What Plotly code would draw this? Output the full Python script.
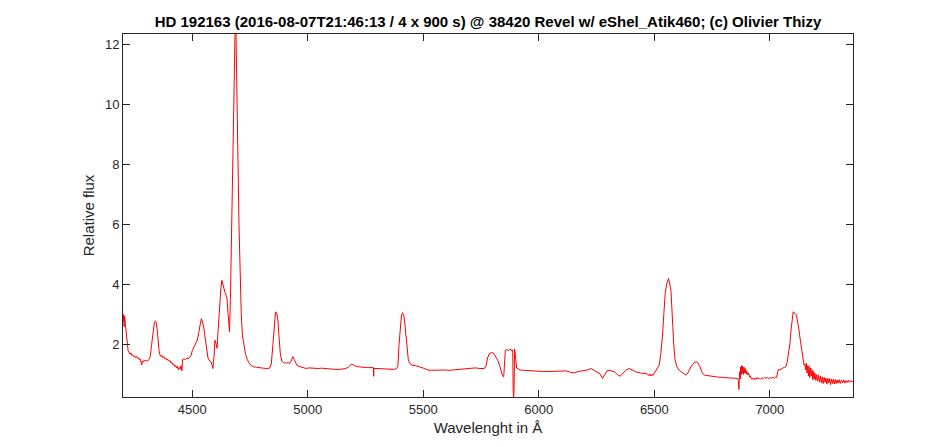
import plotly.graph_objects as go

wavelength = [
    4200, 4203, 4205, 4207, 4210, 4214, 4218, 4222, 4226, 4230, 4234, 4238, 4242, 4246, 4250,
    4254, 4258, 4262, 4266, 4270, 4274, 4278, 4281, 4284, 4288, 4292, 4296, 4300, 4306, 4312,
    4318, 4324, 4330, 4336, 4340, 4344, 4348, 4352, 4356, 4360, 4364, 4368, 4372, 4376, 4380,
    4385, 4390, 4395, 4400, 4404, 4408, 4412, 4416, 4420, 4424, 4428, 4432, 4436, 4440, 4444,
    4448, 4452, 4455, 4458, 4464, 4470, 4476, 4482, 4488, 4494, 4500, 4508, 4516, 4522, 4528,
    4534, 4539, 4544, 4550, 4556, 4562, 4568, 4575, 4582, 4586, 4589, 4594, 4598, 4602, 4607,
    4612, 4618, 4624, 4628, 4632, 4637, 4642, 4646, 4650, 4655, 4661, 4665, 4670, 4675, 4680,
    4685, 4689, 4693, 4697, 4702, 4707, 4712, 4717, 4722, 4730, 4738, 4746, 4755, 4765, 4778,
    4791, 4805, 4820, 4834, 4842, 4849, 4854, 4860, 4865, 4870, 4875, 4881, 4887, 4893, 4899,
    4907, 4914, 4921, 4928, 4935, 4941, 4947, 4953, 4962, 4972, 4982, 4993, 5005, 5018, 5030,
    5045, 5060, 5080, 5100, 5120, 5137, 5150, 5165, 5175, 5182, 5188, 5195, 5205, 5215, 5224,
    5240, 5255, 5270, 5280, 5284, 5285, 5286, 5300, 5320, 5340, 5360, 5375, 5385, 5390, 5395,
    5400, 5405, 5410, 5415, 5420, 5425, 5430, 5435, 5440, 5448, 5455, 5465, 5475, 5485, 5498,
    5510, 5520, 5534, 5550, 5570, 5590, 5613, 5635, 5660, 5685, 5705, 5725, 5745, 5764, 5772,
    5778, 5786, 5795, 5803, 5812, 5822, 5830, 5836, 5842, 5848, 5852, 5855, 5862, 5868, 5874,
    5880, 5884, 5887, 5889, 5891, 5893, 5895, 5897, 5900, 5904, 5912, 5920, 5935, 5950, 5973,
    6000, 6020, 6045, 6070, 6095, 6118, 6135, 6153, 6170, 6190, 6210, 6226, 6240, 6254, 6265,
    6276, 6285, 6295, 6305, 6315, 6327, 6340, 6352, 6365, 6378, 6391, 6405, 6420, 6440, 6455,
    6464, 6472, 6478, 6482, 6485, 6490, 6495, 6500, 6507, 6515, 6521, 6528, 6535, 6541, 6547,
    6553, 6558, 6561, 6565, 6569, 6572, 6576, 6579, 6584, 6590, 6598, 6608, 6618, 6628, 6637,
    6645, 6652, 6658, 6665, 6673, 6682, 6690, 6695, 6701, 6708, 6716, 6730, 6750, 6770, 6795,
    6820, 6840, 6860, 6864, 6866, 6868, 6870, 6872, 6874, 6876, 6878, 6880, 6882, 6885, 6888,
    6891, 6894, 6897, 6900, 6904, 6908, 6912, 6916, 6920, 6925, 6930, 6935, 6940, 6945, 6950,
    6955, 6960, 6966, 6972, 6978, 6983, 6990, 6996, 7002, 7008, 7014, 7020, 7026, 7029, 7033,
    7037, 7043, 7050, 7057, 7063, 7069, 7075, 7081, 7087, 7092, 7097, 7101, 7105, 7110, 7115,
    7120, 7126, 7130, 7134, 7139, 7144, 7148, 7152, 7155, 7158, 7161, 7164, 7167, 7170, 7173,
    7177, 7180, 7183, 7186, 7189, 7192, 7195, 7199, 7203, 7207, 7211, 7215, 7219, 7223, 7227,
    7231, 7235, 7239, 7243, 7247, 7251, 7255, 7259, 7263, 7267, 7271, 7275, 7279, 7283, 7287,
    7291, 7295, 7300, 7305, 7310, 7315, 7320, 7325, 7330, 7335, 7340, 7345, 7350, 7355, 7360,
]

flux = [
    2.75, 3.0, 2.6, 2.95, 2.7, 2.4, 2.0, 1.8, 1.75, 1.68, 1.72, 1.63, 1.66, 1.6, 1.62,
    1.56, 1.6, 1.54, 1.57, 1.5, 1.53, 1.4, 1.32, 1.45, 1.42, 1.48, 1.44, 1.47, 1.45, 1.5,
    1.6, 2.0, 2.5, 2.75, 2.78, 2.72, 2.5, 2.1, 1.8, 1.65, 1.6, 1.64, 1.56, 1.6, 1.53,
    1.55, 1.48, 1.5, 1.44, 1.46, 1.38, 1.4, 1.32, 1.35, 1.26, 1.3, 1.22, 1.28, 1.15, 1.24,
    1.18, 1.3, 1.12, 1.5, 1.52, 1.5, 1.54, 1.52, 1.56, 1.62, 1.8, 1.95, 2.05, 2.15, 2.4,
    2.75, 2.86, 2.75, 2.55, 2.2, 1.8, 1.55, 1.45, 1.42, 1.3, 1.2, 1.6, 2.14, 2.05, 1.87,
    2.5, 3.3, 3.9, 4.14, 4.0, 3.8, 3.72, 3.65, 3.55, 3.0, 2.42, 3.5, 6.0, 9.0, 11.5,
    12.4, 12.4, 11.0, 8.5, 6.0, 4.0, 3.0, 2.3, 2.0, 1.7, 1.5, 1.38, 1.3, 1.26, 1.24,
    1.22, 1.21, 1.2, 1.21, 1.35, 2.0, 2.7, 3.09, 3.05, 2.85, 2.3, 1.7, 1.45, 1.4, 1.39,
    1.38, 1.4, 1.37, 1.45, 1.6, 1.5, 1.4, 1.31, 1.27, 1.24, 1.22, 1.2, 1.22, 1.21, 1.22,
    1.2, 1.21, 1.19, 1.18, 1.17, 1.17, 1.18, 1.2, 1.25, 1.32, 1.34, 1.33, 1.28, 1.26, 1.25,
    1.24, 1.23, 1.23, 1.23, 1.23, 0.94, 1.2, 1.2, 1.19, 1.18, 1.17, 1.17, 1.2, 1.3, 2.0,
    2.6, 2.95, 3.06, 3.0, 2.7, 2.3, 1.8, 1.5, 1.38, 1.33, 1.3, 1.3, 1.28, 1.26, 1.22,
    1.18, 1.15, 1.14, 1.15, 1.14, 1.15, 1.14, 1.16, 1.18, 1.2, 1.2, 1.22, 1.2, 1.2, 1.3,
    1.55, 1.7, 1.73, 1.72, 1.62, 1.48, 1.3, 1.09, 0.98, 0.92, 1.3, 1.81, 1.83, 1.8, 1.84,
    1.83, 1.78, 1.82, 0.5, 0.15, 0.6, 1.85, 1.75, 1.5, 1.22, 1.18, 1.15, 1.14, 1.13, 1.12,
    1.11, 1.1, 1.1, 1.11, 1.12, 1.12, 1.08, 1.05, 1.1, 1.12, 1.15, 1.2, 1.14, 1.09, 1.02,
    0.87, 1.0, 1.12, 1.14, 1.12, 1.09, 1.0, 0.94, 1.05, 1.15, 1.2, 1.15, 1.09, 1.05, 1.04,
    1.03, 1.0, 0.96, 1.02, 0.95, 1.0, 0.97, 1.05, 1.14, 1.22, 1.31, 1.7, 2.25, 3.0, 3.7,
    4.0, 4.15, 4.2, 4.1, 3.95, 3.8, 3.2, 2.59, 2.0, 1.48, 1.25, 1.14, 1.08, 1.02, 0.98,
    1.05, 1.18, 1.25, 1.33, 1.4, 1.42, 1.38, 1.3, 1.2, 1.05, 0.98, 0.96, 0.94, 0.92, 0.9,
    0.89, 0.88, 0.87, 0.8, 0.5, 0.9, 1.1, 0.85, 1.25, 1.0, 1.3, 1.05, 1.28, 1.0, 1.25,
    1.05, 1.2, 1.02, 1.12, 0.98, 1.05, 0.92, 0.95, 0.85, 0.88, 0.82, 0.88, 0.84, 0.9, 0.85,
    0.88, 0.84, 0.89, 0.86, 0.9, 0.87, 0.9, 0.86, 0.9, 0.87, 0.91, 0.88, 0.92, 0.9, 1.05,
    1.17, 1.15, 1.2, 1.22, 1.23, 1.25, 1.4, 1.7, 2.03, 2.5, 2.9, 3.09, 3.05, 3.03, 2.98,
    2.8, 2.5, 2.25, 2.03, 1.7, 1.45, 1.31, 1.35, 1.15, 1.38, 1.05, 1.3, 0.95, 1.28, 0.9,
    1.22, 0.95, 1.15, 0.82, 1.1, 0.85, 1.05, 0.8, 1.0, 0.78, 0.98, 0.75, 0.95, 0.72, 0.92,
    0.7, 0.9, 0.74, 0.88, 0.68, 0.87, 0.72, 0.86, 0.66, 0.85, 0.7, 0.84, 0.68, 0.83, 0.7,
    0.82, 0.71, 0.83, 0.7, 0.81, 0.72, 0.82, 0.71, 0.8, 0.73, 0.81, 0.74, 0.8, 0.75, 0.79,
]

x_ticks = [4500, 5000, 5500, 6000, 6500, 7000]
y_ticks = [2, 4, 6, 8, 10, 12]

title_text = "HD 192163 (2016-08-07T21:46:13 / 4 x 900 s) @ 38420 Revel w/ eShel_Atik460; (c) Olivier Thizy"

axis_color = "#262626"
font_family = "Liberation Sans, Arial, sans-serif"

fig = go.Figure()
fig.add_trace(go.Scatter(
    x=wavelength, y=flux, mode="lines",
    line=dict(color="#ff0000", width=1),
    hoverinfo="skip", showlegend=False,
))

fig.update_layout(
    width=944, height=447,
    margin=dict(l=115, r=99, t=26, b=58),
    paper_bgcolor="white", plot_bgcolor="white",
    font=dict(family=font_family, color=axis_color, size=13),
    title=dict(
        text="<b>" + title_text + "</b>",
        x=0.5, xref="paper", xanchor="center",
        y=1 - 14 / 447, yref="container", yanchor="middle",
        font=dict(family=font_family, size=15, color="black"),
    ),
    showlegend=False,
)

fig.update_xaxes(
    range=[4200, 7360], tickvals=x_ticks, ticktext=[str(v) for v in x_ticks],
    ticks="inside", ticklen=7, tickcolor=axis_color, tickwidth=1,
    showline=True, linecolor=axis_color, linewidth=1, mirror="ticks",
    showgrid=False, zeroline=False,
    title=dict(text="Wavelenght in Å", font=dict(size=15, color=axis_color), standoff=6),
    tickfont=dict(size=13, color=axis_color),
)
fig.update_yaxes(
    range=[0.25, 12.35], tickvals=y_ticks, ticktext=[str(v) for v in y_ticks],
    ticks="inside", ticklen=7, tickcolor=axis_color, tickwidth=1,
    showline=True, linecolor=axis_color, linewidth=1, mirror="ticks",
    showgrid=False, zeroline=False,
    title=dict(text="Relative flux", font=dict(size=15, color=axis_color), standoff=6),
    tickfont=dict(size=13, color=axis_color),
)

fig.write_html("out.html")
